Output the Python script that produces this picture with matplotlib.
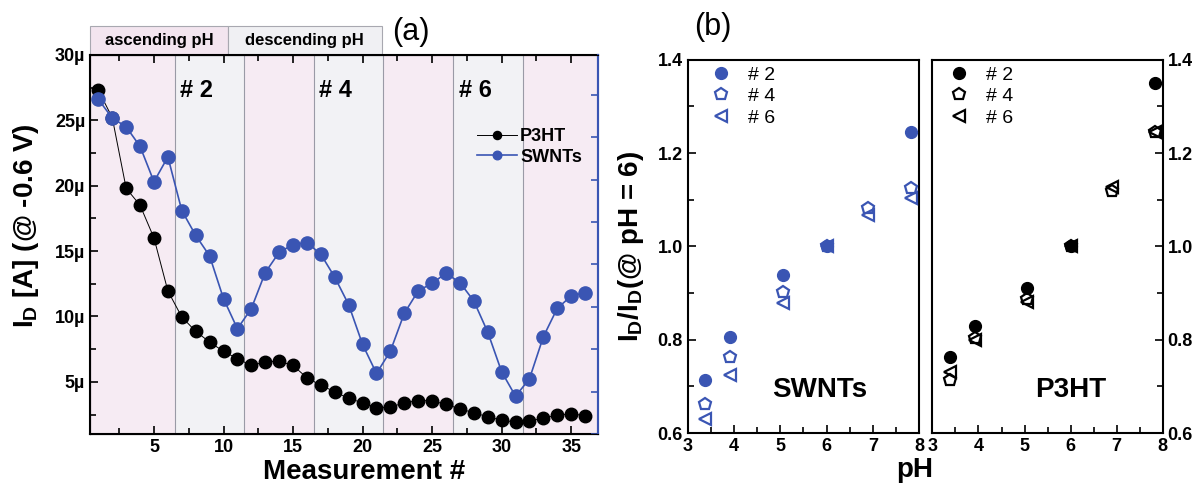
import matplotlib
matplotlib.use("Agg")
import matplotlib.pyplot as plt
import matplotlib.transforms as mtransforms
from matplotlib.patches import Rectangle
from matplotlib.ticker import MultipleLocator, FuncFormatter

plt.rcParams['font.family'] = ['Liberation Sans', 'DejaVu Sans']
plt.rcParams['mathtext.fontset'] = 'custom'
plt.rcParams['mathtext.rm'] = 'Liberation Sans'
plt.rcParams['mathtext.bf'] = 'Liberation Sans:bold'

# panel (a): drain current vs measurement number (in µA)
measurement = list(range(1, 37))
p3ht_current = [27.3, 25.2, 19.8, 18.5, 16.0, 11.95, 9.96, 8.86, 8.04, 7.33,
                6.77, 6.25, 6.53, 6.58, 6.25, 5.31, 4.74, 4.24, 3.73, 3.40,
                3.02, 3.06, 3.40, 3.57, 3.55, 3.27, 2.94, 2.63, 2.33, 2.07,
                1.92, 1.99, 2.25, 2.45, 2.55, 2.42]
swnt_current = [26.6, 25.17, 24.5, 23.0, 20.3, 22.2, 18.1, 16.2, 14.63, 11.36,
                9.06, 10.6, 13.35, 14.9, 15.5, 15.65, 14.75, 13.0, 10.9, 7.86,
                5.64, 7.35, 10.24, 11.95, 12.54, 13.3, 12.59, 11.18, 8.8, 5.77,
                3.9, 5.23, 8.45, 10.62, 11.56, 11.82]
band_edges = [0.4, 6.5, 11.5, 16.5, 21.5, 26.5, 31.5, 37.0]
band_labels = ['# 2', '# 4', '# 6']

# panel (b): normalized current vs pH
ph = [3.38, 3.92, 5.05, 6.0, 6.89, 7.82]
ph_2 = [3.38, 3.92, 5.05, 6.0, 7.82]
swnt_2 = [0.714, 0.807, 0.939, 1.0, 1.246]
swnt_4 = [0.662, 0.763, 0.903, 1.0, 1.082, 1.125]
swnt_6 = [0.630, 0.725, 0.879, 1.0, 1.068, 1.104]
p3ht_2 = [0.763, 0.830, 0.911, 1.0, 1.350]
p3ht_4 = [0.713, 0.804, 0.887, 1.0, 1.118, 1.246]
p3ht_6 = [0.732, 0.800, 0.882, 1.0, 1.127, 1.245]

blue = '#3a55b3'
pink = '#f6ebf3'
grey = '#f2f2f5'

fig = plt.figure(figsize=(12, 4.9), dpi=100)

# ---------------- (a) ----------------
ax = fig.add_axes([0.075, 0.114, 0.423, 0.774])
for i in range(len(band_edges) - 1):
    ax.axvspan(band_edges[i], band_edges[i + 1], color=pink if i % 2 == 0 else grey,
               lw=0, zorder=0)
for e in band_edges[1:-1]:
    ax.axvline(e, color='#9a9aa6', lw=0.8, zorder=1)

ax.plot(measurement, p3ht_current, '-o', color='black', lw=0.7, ms=9,
        mfc='black', mec='black', label='P3HT', zorder=3)
ax.plot(measurement, swnt_current, '-o', color=blue, lw=1.2, ms=9.5,
        mfc=blue, mec=blue, label='SWNTs', zorder=3)

ax.set_xlim(0.4, 36.9)
ax.set_ylim(1.0, 30.0)
ax.xaxis.set_major_locator(MultipleLocator(5))
ax.xaxis.set_minor_locator(MultipleLocator(2.5))
ax.yaxis.set_major_locator(MultipleLocator(5))
ax.yaxis.set_minor_locator(MultipleLocator(2.5))
ax.yaxis.set_major_formatter(FuncFormatter(lambda v, p: f'{int(v)}µ'))
ax.tick_params(which='both', direction='in', top=True, right=False, labelsize=13, width=1.2)
ax.tick_params(which='major', length=6)
ax.tick_params(which='minor', length=4)
for lab in ax.get_xticklabels() + ax.get_yticklabels():
    lab.set_fontweight('bold')
for s in ['left', 'bottom', 'top']:
    ax.spines[s].set_linewidth(1.5)
ax.spines['right'].set_color(blue)
ax.spines['right'].set_linewidth(1.5)

# blue right axis with ticks only
axr = ax.twinx()
axr.set_ylim(0, 8.94)
axr.yaxis.set_major_locator(MultipleLocator(1))
axr.tick_params(axis='y', direction='in', colors=blue, labelright=False, length=5, width=1.2)
axr.spines['right'].set_color(blue)
axr.spines['right'].set_linewidth(1.5)

ax.set_xlabel('Measurement #', fontsize=20, fontweight='bold', labelpad=4)
ax.xaxis.set_label_coords(0.54, -0.065)
ax.set_ylabel(r'I$_\mathbf{D}$ [A] (@ -0.6 V)', fontsize=20, fontweight='bold', labelpad=6)
ax.yaxis.set_label_coords(-0.097, 0.55)

label_x = [6.9, 16.9, 26.9]
for x, t in zip(label_x, band_labels):
    ax.text(x, 27.3, t, fontsize=17, fontweight='bold', ha='left', va='center', zorder=4)

trans = mtransforms.blended_transform_factory(ax.transData, ax.transAxes)
ax.add_patch(Rectangle((0.4, 1.0), 10.3 - 0.4, 0.077, transform=trans, clip_on=False,
                       facecolor='#f3e5ef', edgecolor='#a8a8b0', lw=0.8))
ax.add_patch(Rectangle((10.3, 1.0), 21.4 - 10.3, 0.077, transform=trans, clip_on=False,
                       facecolor='#f0f0f3', edgecolor='#a8a8b0', lw=0.8))
ax.text((0.4 + 10.3) / 2, 1.038, 'ascending pH', transform=trans, ha='center', va='center',
        fontsize=12, fontweight='bold')
ax.text((10.3 + 21.4) / 2, 1.038, 'descending pH', transform=trans, ha='center', va='center',
        fontsize=12, fontweight='bold')

leg = ax.legend(loc='upper left', bbox_to_anchor=(0.73, 0.85), frameon=False, fontsize=13,
                markerscale=0.65, handlelength=2.2, handletextpad=0.2, labelspacing=0.2)
for t in leg.get_texts():
    t.set_fontweight('bold')

fig.text(0.342, 0.935, '(a)', fontsize=22, ha='center', va='center')

# ---------------- (b) ----------------
ax1 = fig.add_axes([0.573, 0.116, 0.193, 0.762])
ax2 = fig.add_axes([0.777, 0.116, 0.192, 0.762])

ax1.plot(ph_2, swnt_2, 'o', ms=8.5, color=blue, mec=blue, label='# 2', zorder=3)
ax1.plot(ph, swnt_4, 'p', ms=9, mfc='none', mec=blue, mew=1.6, label='# 4', zorder=3)
ax1.plot(ph, swnt_6, '<', ms=9, mfc='none', mec=blue, mew=1.6, label='# 6', zorder=3)

ax2.plot(ph_2, p3ht_2, 'o', ms=8.5, color='black', mec='black', label='# 2', zorder=3)
ax2.plot(ph, p3ht_4, 'p', ms=9, mfc='none', mec='black', mew=1.6, label='# 4', zorder=3)
ax2.plot(ph, p3ht_6, '<', ms=9, mfc='none', mec='black', mew=1.6, label='# 6', zorder=3)

for a, bx in ((ax1, 0.0), (ax2, -0.03)):
    a.set_xlim(3, 8)
    a.set_ylim(0.6, 1.4)
    a.xaxis.set_major_locator(MultipleLocator(1))
    a.xaxis.set_minor_locator(MultipleLocator(0.5))
    a.yaxis.set_major_locator(MultipleLocator(0.2))
    a.yaxis.set_minor_locator(MultipleLocator(0.1))
    a.tick_params(which='both', direction='in', labelsize=13, width=1.2, top=False)
    a.tick_params(which='major', length=6)
    a.tick_params(which='minor', length=4)
    for s in a.spines.values():
        s.set_linewidth(1.5)
    a.legend(loc='upper left', bbox_to_anchor=(bx, 1.02), frameon=False, fontsize=14,
             handletextpad=0.4, labelspacing=0.2, borderaxespad=0.3)

ax1.tick_params(which='both', left=True, right=False)
ax2.tick_params(which='both', left=False, right=True, labelleft=False, labelright=True)
for a in (ax1, ax2):
    for lab in a.get_xticklabels() + a.get_yticklabels():
        lab.set_fontweight('bold')

ax1.set_ylabel(r'I$_\mathbf{D}$/I$_\mathbf{D}$(@ pH = 6)', fontsize=20, fontweight='bold',
               labelpad=8)
ax1.text(0.57, 0.115, 'SWNTs', transform=ax1.transAxes, fontsize=20, fontweight='bold',
         ha='center', va='center')
ax2.text(0.60, 0.115, 'P3HT', transform=ax2.transAxes, fontsize=20, fontweight='bold',
         ha='center', va='center')
fig.text(0.762, 0.04, 'pH', fontsize=20, fontweight='bold', ha='center', va='center')
fig.text(0.594, 0.945, '(b)', fontsize=22, ha='center', va='center')

fig.savefig('out.png', dpi=100)
